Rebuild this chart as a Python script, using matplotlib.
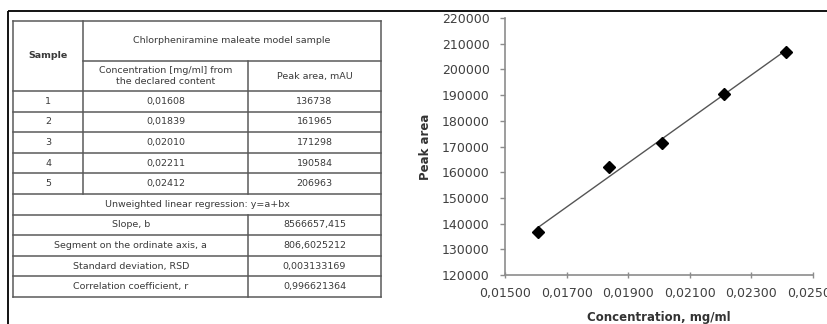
import matplotlib
matplotlib.use("Agg")
import matplotlib.pyplot as plt
from matplotlib.ticker import FixedLocator, FuncFormatter

# Calibration data: chlorpheniramine maleate model sample
samples = ["1", "2", "3", "4", "5"]
concentration = [0.01608, 0.01839, 0.02010, 0.02211, 0.02412]
peak_area = [136738, 161965, 171298, 190584, 206963]

# Regression summary
slope_b = 8566657.415
intercept_a = 806.6025212
rsd = 0.003133169
corr_r = 0.996621364

x_ticks = [0.015, 0.017, 0.019, 0.021, 0.023, 0.025]
y_ticks = list(range(120000, 220001, 10000))


def comma(v, digits):
    return f"{v:.{digits}f}".replace(".", ",")


W, H = 828, 324
fig = plt.figure(figsize=(W / 100, H / 100), dpi=100)
fig.patch.set_facecolor("white")

# ---- page layer in pixel coordinates ----
page = fig.add_axes([0, 0, 1, 1])
page.set_xlim(0, W)
page.set_ylim(H, 0)
page.axis("off")

# outer frame lines
page.plot([8, W], [10.5, 10.5], color="black", lw=1.3, solid_capstyle="butt")
page.plot([8, 8], [10.5, H], color="black", lw=1.3, solid_capstyle="butt")

# table geometry
tx0, tx1, tx2, tx3 = 13.5, 83, 248, 381
ty_top, ty_mid, ty_head = 20.7, 61, 91
row_h = 20.6
n_rows = 10
ty_bot = ty_head + row_h * n_rows
lc = "#5a5a5a"
lw = 1.1
tc = "#3a3a3a"

def hline(y, xa, xb):
    page.plot([xa, xb], [y, y], color=lc, lw=lw, solid_capstyle="projecting")

def vline(x, ya, yb):
    page.plot([x, x], [ya, yb], color=lc, lw=lw, solid_capstyle="projecting")

# outer border
hline(ty_top, tx0, tx3)
hline(ty_bot, tx0, tx3)
vline(tx0, ty_top, ty_bot)
vline(tx3, ty_top, ty_bot)
hline(ty_mid, tx1, tx3)
hline(ty_head, tx0, tx3)
vline(tx1, ty_top, ty_head + row_h * 5)
vline(tx2, ty_mid, ty_head + row_h * 5)
vline(tx2, ty_head + row_h * 6, ty_bot)
for i in range(1, n_rows):
    hline(ty_head + row_h * i, tx0, tx3)

fs = 6.8
def cell(x, y, s, bold=False):
    page.text(x, y, s, ha="center", va="center", fontsize=fs, color=tc,
              fontweight="bold" if bold else "normal", linespacing=1.2)

cell((tx0 + tx1) / 2, (ty_top + ty_head) / 2, "Sample", bold=True)
cell((tx1 + tx3) / 2, (ty_top + ty_mid) / 2, "Chlorpheniramine maleate model sample")
cell((tx1 + tx2) / 2, (ty_mid + ty_head) / 2, "Concentration [mg/ml] from\nthe declared content")
cell((tx2 + tx3) / 2, (ty_mid + ty_head) / 2, "Peak area, mAU")

for i, (s, c, p) in enumerate(zip(samples, concentration, peak_area)):
    yc = ty_head + row_h * (i + 0.5)
    cell((tx0 + tx1) / 2, yc, s)
    cell((tx1 + tx2) / 2, yc, comma(c, 5))
    cell((tx2 + tx3) / 2, yc, str(p))

cell((tx0 + tx3) / 2, ty_head + row_h * 5.5, "Unweighted linear regression: y=a+bx")
summary = [
    ("Slope, b", comma(slope_b, 3)),
    ("Segment on the ordinate axis, a", comma(intercept_a, 7)),
    ("Standard deviation, RSD", comma(rsd, 9)),
    ("Correlation coefficient, r", comma(corr_r, 9)),
]
for j, (name, val) in enumerate(summary):
    yc = ty_head + row_h * (6 + j + 0.5)
    cell((tx0 + tx2) / 2, yc, name)
    cell((tx2 + tx3) / 2, yc, val)

# ---- calibration plot ----
ax_l, ax_r, ax_t, ax_b = 505, 813, 18, 275
ax = fig.add_axes([ax_l / W, 1 - ax_b / H, (ax_r - ax_l) / W, (ax_b - ax_t) / H])
ax.set_xlim(x_ticks[0], x_ticks[-1])
ax.set_ylim(y_ticks[0], y_ticks[-1])
ax.patch.set_alpha(0)

axis_c = "#8c8c8c"
for side in ("top", "right"):
    ax.spines[side].set_visible(False)
for side in ("left", "bottom"):
    ax.spines[side].set_color(axis_c)
    ax.spines[side].set_linewidth(1.2)

ax.xaxis.set_major_locator(FixedLocator(x_ticks))
ax.yaxis.set_major_locator(FixedLocator(y_ticks))
ax.xaxis.set_major_formatter(FuncFormatter(lambda v, p: comma(v, 5)))
ax.yaxis.set_major_formatter(FuncFormatter(lambda v, p: f"{int(round(v))}"))
ax.tick_params(axis="x", direction="inout", length=4, width=1, color=axis_c,
               labelsize=9, labelcolor="#404040", pad=7)
ax.tick_params(axis="y", direction="out", length=3.5, width=1, color=axis_c,
               labelsize=9, labelcolor="#404040", pad=7.5)

# regression line over the measured range
x_fit = [min(concentration), max(concentration)]
y_fit = [intercept_a + slope_b * v for v in x_fit]
ax.plot(x_fit, y_fit, color="#555555", lw=1.0, zorder=2)
ax.plot(concentration, peak_area, linestyle="none", marker="D", markersize=6.5,
        color="black", zorder=3, clip_on=False)

ax.set_ylabel("Peak area", fontsize=8.5, fontweight="bold", color="#333333")
ax.yaxis.set_label_coords((432 - ax_l) / (ax_r - ax_l), 0.5)
ax.set_xlabel("Concentration, mg/ml", fontsize=8.5, fontweight="bold", color="#333333")
ax.xaxis.set_label_coords(0.5, -(311 - ax_b) / (ax_b - ax_t))

fig.savefig("out.png", dpi=100, facecolor="white")
